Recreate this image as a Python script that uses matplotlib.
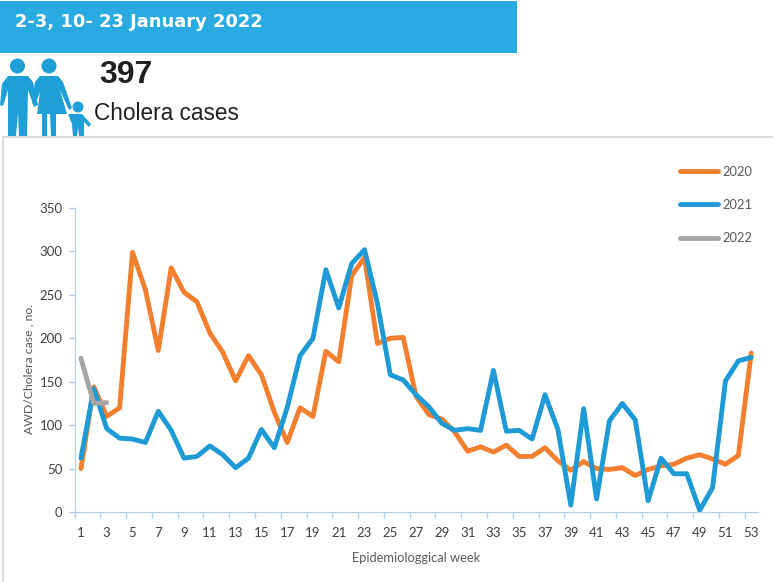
# Weekly AWD/cholera cases by year, with the bulletin header above the chart

import matplotlib
matplotlib.use("Agg")
import matplotlib.pyplot as plt
from matplotlib.patches import Circle, Polygon, Rectangle

# Data (cases per epidemiological week)
weeks_2020 = list(range(1, 54))
cases_2020 = [50, 144, 110, 120, 299, 256, 186, 281, 253, 242, 206, 184, 151, 180, 158, 115, 80, 120,
              110, 185, 173, 272, 293, 194, 200, 201, 133, 112, 107, 92, 70, 75, 69, 77, 64, 64, 74,
              59, 48, 58, 50, 49, 51, 42, 49, 53, 55, 62, 66, 61, 55, 65, 183]
cases_2021 = [62, 142, 96, 85, 84, 80, 116, 94, 62, 64, 76, 66, 51, 62, 95, 74, 120, 180,
              200, 279, 235, 286, 302, 240, 158, 152, 135, 121, 102, 94, 96, 94, 163, 93, 94, 84, 135,
              95, 8, 119, 15, 105, 125, 106, 13, 62, 44, 44, 2, 28, 151, 174, 178]
weeks_2022 = [1, 2, 3]
cases_2022 = [177, 125, 126]

y_ticks = [0, 50, 100, 150, 200, 250, 300, 350]
x_labels = list(range(1, 54, 2))

BLUE = "#1E9AD6"
ORANGE = "#F47F2F"
GREY = "#A5A5A5"
AXIS = "#AFCFEF"
TEXT = "#595959"

plt.rcParams["font.family"] = ["Lato", "DejaVu Sans"]

W, H = 773, 582
fig = plt.figure(figsize=(W / 100, H / 100), dpi=100)

# Header drawn in pixel coordinates
bg = fig.add_axes([0, 0, 1, 1])
bg.set_xlim(0, W)
bg.set_ylim(H, 0)
bg.axis("off")
bg.add_patch(Rectangle((0, 1), 517, 52, color="#29ABE2", lw=0))
bg.text(15, 22, "2-3, 10- 23 January 2022", color="white", fontsize=12.9, fontweight="bold",
        family="DejaVu Sans", va="center", ha="left")
bg.text(99, 75, "397", color="#231F20", fontsize=23, fontweight="bold",
        family="Liberation Sans", va="center", ha="left")
bg.text(94, 113, "Cholera cases", color="#231F20", fontsize=16.3,
        family="Liberation Sans", va="center", ha="left")

# Family icon
icon = "#1F9FD8"
for cx, cy, r in [(17.5, 66, 7.5), (49, 66, 7.5), (78, 107, 5.5)]:
    bg.add_patch(Circle((cx, cy), r, color=icon, lw=0))
man = [(8, 76), (28, 76), (33, 82), (38, 105), (34, 107), (28, 90), (27, 136), (19, 136), (18, 113),
       (16, 136), (8, 136), (8, 90), (3, 106), (0, 105), (2, 84)]
woman = [(40, 76), (58, 76), (63, 82), (72, 108), (69, 110), (60, 90), (67, 114), (56, 114), (56, 136),
         (51, 136), (50, 114), (47, 114), (47, 136), (42, 136), (42, 114), (37, 114), (40, 92), (35, 106), (32, 103), (35, 82)]
child = [(72, 114), (82, 114), (91, 124), (89, 127), (84, 122), (84, 136), (79, 136), (78, 127), (77, 136), (73, 136), (72, 124), (68, 114)]
for shape in [man, woman, child]:
    bg.add_patch(Polygon(shape, closed=True, color=icon, lw=0))

# Chart panel border
bg.plot([3, 773], [137, 137], color="#D9D9D9", lw=1.4)
bg.plot([3, 3], [137, 582], color="#D9D9D9", lw=1.4)

# Chart
left, right, top, bottom = 74.5, 757.7, 208, 512
ax = fig.add_axes([left / W, 1 - bottom / H, (right - left) / W, (bottom - top) / H])
ax.patch.set_alpha(0)
ax.plot(weeks_2020, cases_2020, color=ORANGE, lw=3.5, label="2020", solid_capstyle="round")
ax.plot(weeks_2020, cases_2021, color=BLUE, lw=3.5, label="2021", solid_capstyle="round")
ax.plot(weeks_2022, cases_2022, color=GREY, lw=3.5, label="2022", solid_capstyle="round")

ax.set_xlim(0.5, 53.5)
ax.set_ylim(0, 350)
ax.set_yticks(y_ticks)

# Ticks sit between categories, labels sit on the odd weeks
ax.set_xticks([w - 0.5 for w in x_labels[:-1]] + [52.5])
ax.set_xticklabels([])
ax.set_xticks(x_labels, minor=True)
ax.set_xticklabels([str(w) for w in x_labels], minor=True)
ax.tick_params(axis="x", which="major", length=4.5, color=AXIS, width=1)
ax.tick_params(axis="x", which="minor", length=0, pad=11, labelsize=9.5, labelcolor="#404040")
ax.tick_params(axis="y", length=4.5, color=AXIS, width=1, pad=4, labelsize=9.5, labelcolor="#404040")

ax.spines["top"].set_visible(False)
ax.spines["right"].set_visible(False)
ax.spines["left"].set_color(AXIS)
ax.spines["bottom"].set_color(AXIS)

ax.set_xlabel("Epidemiologgical week", fontsize=9.3, color=TEXT)
ax.xaxis.set_label_coords(0.5, -0.132)
ax.set_ylabel("AWD/Cholera case , no.", fontsize=8.8, color=TEXT)
ax.yaxis.set_label_coords(-0.058, 0.47)

leg = fig.legend(loc="upper left", bbox_to_anchor=(668 / W, 1 - 154 / H), frameon=False, fontsize=9.3,
                 handlelength=3.0, handletextpad=0.3, labelspacing=1.65, labelcolor=TEXT)

plt.savefig("out.png", dpi=100)
